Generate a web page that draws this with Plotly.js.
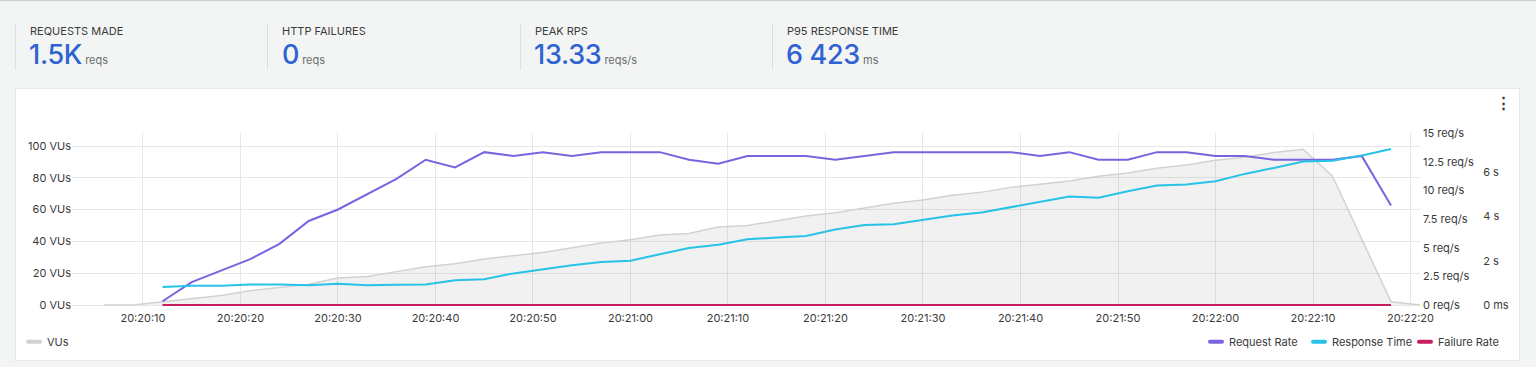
<!DOCTYPE html>
<html><head><meta charset="utf-8">
<script src="https://cdn.plot.ly/plotly-3.0.1.min.js"></script>
<style>
html,body{margin:0;padding:0;width:1536px;height:367px;overflow:hidden;background:#f3f5f5;font-family:Inter,"Noto Sans",sans-serif;}
#topline{position:absolute;left:0;top:0;width:1536px;height:1px;background:#cdd0d0;}
.div{position:absolute;top:23px;width:1px;height:47px;background:#dcdfdf;}
.lbl{position:absolute;top:25px;font-size:11px;line-height:13px;color:#3b3b3b;white-space:nowrap;}
.val{position:absolute;top:39px;font-size:27px;line-height:32px;color:#2e63d1;font-weight:500;white-space:nowrap;letter-spacing:-0.3px;}
.val span{font-size:11px;color:#6d6d6d;font-weight:400;margin-left:3px;letter-spacing:0;}
#card{position:absolute;left:15px;top:88px;width:1505px;height:273px;background:#fff;border:1px solid #e6e8e8;box-sizing:border-box;}
#menu{position:absolute;left:1496px;top:95px;font-size:15px;line-height:16px;color:#333;font-weight:700;}
#chart{position:absolute;left:0;top:0;width:1536px;height:367px;}
</style></head>
<body>
<div id="topline"></div>
<div class="div" style="left:15px"></div>
<div class="div" style="left:267px"></div>
<div class="div" style="left:520px"></div>
<div class="div" style="left:772px"></div>
<div class="lbl" style="left:30px">REQUESTS MADE</div>
<div class="val" style="left:29px">1.5K<span>reqs</span></div>
<div class="lbl" style="left:282px">HTTP FAILURES</div>
<div class="val" style="left:282px">0<span>reqs</span></div>
<div class="lbl" style="left:535px">PEAK RPS</div>
<div class="val" style="left:534px">13.33<span>reqs/s</span></div>
<div class="lbl" style="left:787px">P95 RESPONSE TIME</div>
<div class="val" style="left:786px">6 423<span>ms</span></div>
<div id="card"></div>
<div id="menu">⋮</div>
<div id="chart"></div>
<script>
// ---- data ----
const times = ['20:20:06','20:20:09','20:20:12','20:20:15','20:20:18','20:20:21','20:20:24','20:20:27','20:20:30','20:20:33','20:20:36','20:20:39','20:20:42','20:20:45','20:20:48','20:20:51','20:20:54','20:20:57',
 '20:21:00','20:21:03','20:21:06','20:21:09','20:21:12','20:21:15','20:21:18','20:21:21','20:21:24','20:21:27','20:21:30','20:21:33','20:21:36','20:21:39','20:21:42','20:21:45','20:21:48','20:21:51','20:21:54','20:21:57',
 '20:22:00','20:22:03','20:22:06','20:22:09','20:22:12','20:22:15','20:22:18','20:22:21'];
const vus = [0,0,2,4,6,9,11,13,17,18,21,24,26,29,31,33,36,39,41,44,45,49,50,53,56,58,61,64,66,69,71,74,76,78,81,83,86,88,91,93,96,98,81,41,2,0];
const rateTimes = times.slice(2,45);
const requestRate = [0.33,2,3,4,5.33,7.33,8.33,9.67,11,12.67,
 12,13.33,13,13.33,13,13.33,13.33,13.33,12.67,12.33,
 13,13,13,12.67,13,13.33,13.33,13.33,13.33,13.33,
 13,13.33,12.67,12.67,13.33,13.33,13,13,12.67,12.67,
 12.67,13,8.67];
const responseTime = [820,870,870,930,930,890,960,890,920,930,
 1120,1170,1430,1620,1800,1950,2000,2300,2580,2730,
 2970,3050,3120,3420,3620,3650,3860,4050,4180,4430,
 4680,4910,4850,5150,5410,5450,5600,5930,6200,6490,
 6530,6760,7060];
const failureRate = [0,0,0,0,0,0,0,0,0,0,0,0,0,0,0,0,0,0,0,0,0,0,0,0,0,0,0,0,0,0,0,0,0,0,0,0,0,0,0,0,0,0,0];
const vuTicks = [0,20,40,60,80,100];
const vuTickText = ['0 VUs','20 VUs','40 VUs','60 VUs','80 VUs','100 VUs'];
const rpsTicks = [0,2.5,5,7.5,10,12.5,15];
const rpsTickText = ['0 req/s','2.5 req/s','5 req/s','7.5 req/s','10 req/s','12.5 req/s','15 req/s'];
const msTicks = [0,2000,4000,6000];
const msTickText = ['0 ms','2 s','4 s','6 s'];

const day = '2024-05-14 ';
const d = a => a.map(t => day + t);

const traces = [
 {x:d(times), y:vus, name:'VUs', type:'scatter', mode:'lines', fill:'tozeroy', fillcolor:'rgba(0,0,0,0.055)',
  line:{color:'#d2d2d2', width:1.5}, yaxis:'y', legend:'legend', showlegend:true},
 {x:d(rateTimes), y:requestRate, name:'Request Rate', type:'scatter', mode:'lines',
  line:{color:'#7b63e0', width:2}, yaxis:'y2', legend:'legend2', showlegend:true},
 {x:d(rateTimes), y:responseTime, name:'Response Time', type:'scatter', mode:'lines',
  line:{color:'#27c3e6', width:2}, yaxis:'y3', legend:'legend3', showlegend:true},
 {x:d(rateTimes), y:failureRate, name:'Failure Rate', type:'scatter', mode:'lines',
  line:{color:'#c81d5e', width:2}, yaxis:'y2', legend:'legend4', showlegend:true}
];

const gridc = '#e7e7e7';
const W = 1434, L = 72;
const px = p => (p - L) / W;
const legY = -0.2;
const leg = x => ({orientation:'h', x:x, xanchor:'left', y:legY, yanchor:'middle', bgcolor:'rgba(0,0,0,0)',
  borderwidth:0, font:{size:11, color:'#3a3a3a'}, visible:true});
const layout = {
 width:1536, height:367,
 paper_bgcolor:'rgba(0,0,0,0)', plot_bgcolor:'rgba(0,0,0,0)',
 margin:{l:72, r:30, t:133, b:60, autoexpand:false},
 font:{family:'Inter, "Noto Sans", sans-serif', size:11, color:'#3a3a3a'},
 hovermode:false, showlegend:true,
 xaxis:{type:'date', domain:[0,0.94], range:[day+'20:20:02.72', day+'20:22:20.97'],
  tick0:day+'20:20:10', dtick:10000, tickformat:'%H:%M:%S', ticklabelstandoff:3,
  showgrid:true, gridcolor:gridc, zeroline:false, showline:false, ticks:'', fixedrange:true},
 yaxis:{range:[-1.26,108.2], tickvals:vuTicks, ticktext:vuTickText, showgrid:true, gridcolor:gridc,
  zeroline:false, showline:false, ticks:'', fixedrange:true},
 yaxis2:{overlaying:'y', side:'right', anchor:'x', range:[-0.174,15], tickvals:rpsTicks, ticktext:rpsTickText,
  showgrid:false, zeroline:false, showline:false, ticks:'', fixedrange:true, ticklabelstandoff:2},
 yaxis3:{overlaying:'y', side:'right', anchor:'free', position:0.982, range:[-90,7780], tickvals:msTicks, ticktext:msTickText,
  showgrid:false, zeroline:false, showline:false, ticks:'', fixedrange:true, ticklabelstandoff:2},
 legend:leg(px(7)),
 legend2:leg(px(1189)),
 legend3:leg(px(1292)),
 legend4:leg(px(1398))
};

Plotly.newPlot('chart', traces, layout, {displayModeBar:false, staticPlot:true}).then(gd => {
  gd.querySelectorAll('.legendfill').forEach(g => g.remove());
  gd.querySelectorAll('.legendlines path').forEach(p => {
    p.setAttribute('d','M21,0h12');
    p.style.strokeWidth = '4px';
    p.style.strokeLinecap = 'round';
  });
});
</script>
</body></html>
